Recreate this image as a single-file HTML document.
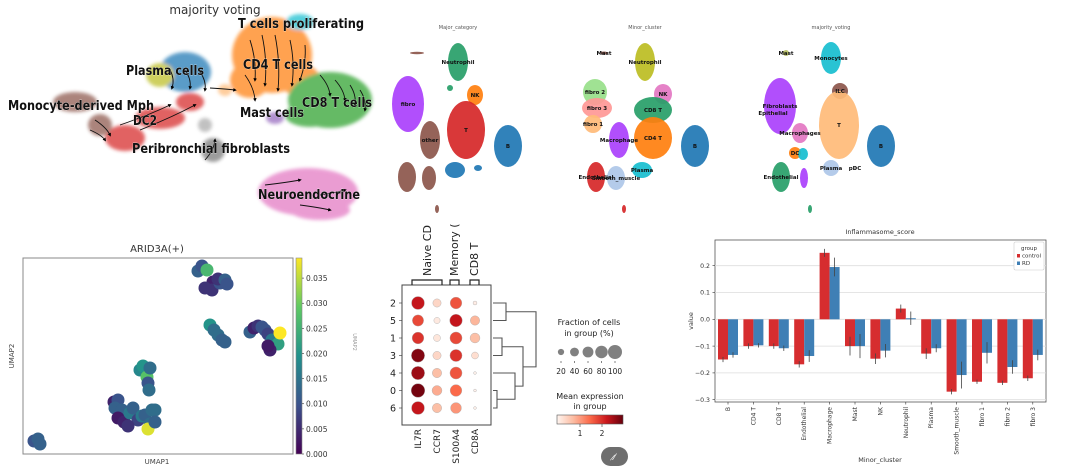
<!DOCTYPE html>
<html><head><meta charset="utf-8"><style>
html,body{margin:0;padding:0;background:#fff;width:1080px;height:476px;overflow:hidden}
svg{display:block;font-family:"DejaVu Sans","Liberation Sans",sans-serif}
</style></head><body>
<svg id="root" width="1080" height="476" viewBox="0 0 1080 476">
<defs>
<linearGradient id="vir" x1="0" y1="1" x2="0" y2="0">
<stop offset="0" stop-color="#440154"/><stop offset="0.25" stop-color="#3b528b"/><stop offset="0.5" stop-color="#21918c"/><stop offset="0.75" stop-color="#5ec962"/><stop offset="1" stop-color="#fde725"/></linearGradient>
<linearGradient id="reds" x1="0" y1="0" x2="1" y2="0">
<stop offset="0" stop-color="#fff5f0"/><stop offset="0.25" stop-color="#fcbba1"/><stop offset="0.5" stop-color="#fb6a4a"/><stop offset="0.75" stop-color="#cb181d"/><stop offset="1" stop-color="#67000d"/></linearGradient>
<filter id="blur1"><feGaussianBlur stdDeviation="1.8"/></filter>
<marker id="arr" markerWidth="4" markerHeight="4" refX="2" refY="2" orient="auto"><path d="M0,0L4,2L0,4z" fill="#000"/></marker>
</defs>
<g id="stream"></g>
<g id="umaps"></g>
<g id="arid"></g>
<g id="dot"></g>
<g id="bar"></g>
</svg>
<script>
const NS="http://www.w3.org/2000/svg";
function mk(parent,tag,attrs,text){const e=document.createElementNS(NS,tag);for(const k in attrs)e.setAttribute(k,attrs[k]);if(text!==undefined)e.textContent=text;parent.appendChild(e);return e;}

// ---------- Streamline UMAP ----------
const streamBlobs=[["#ff7f0e",272,55,40,38],["#ff7f0e",250,80,20,18],["#ff7f0e",300,80,20,16],["#17becf",300,22,14,8],["#2ca02c",330,100,42,28],["#2ca02c",310,115,25,12],["#1f77b4",185,72,26,20],["#bcbd22",160,75,14,12],["#d62728",125,138,20,13],["#d62728",160,118,25,11],["#d62728",190,102,14,9],["#8c564b",75,102,22,10],["#8c564b",100,125,12,11],["#aaaaaa",205,125,7,7],["#777777",213,150,12,12],["#e377c2",308,192,50,24],["#e377c2",320,210,30,10],["#9467bd",275,118,9,6],["#ffbb78",225,90,7,6]];
const streamLabels=[["T cells proliferating",238,28,126],["CD4 T cells",243,69,70],["Plasma cells",126,75,78],["Monocyte-derived Mph",8,110,146],["DC2",133,125,24],["Mast cells",240,117,64],["CD8 T cells",302,107,70],["Peribronchial fibroblasts",132,153,158],["Neuroendocrine",258,199,102]];
const sg=document.getElementById('stream');
const st=mk(sg,'text',{x:215,y:14,'font-size':12,'text-anchor':'middle',fill:'#333'},'majority voting');


const sb=mk(sg,'g',{filter:'url(#blur1)',opacity:0.72});
streamBlobs.forEach(b=>{const e=mk(sb,'ellipse',{cx:b[1],cy:b[2],rx:b[3],ry:b[4],fill:b[0]});

});
const arrows=[[250,40,255,80],[262,35,265,85],[275,35,278,90],[290,40,292,85],[305,45,300,80],[245,75,255,100],[320,75,330,95],[335,80,345,100],[350,85,355,105],[360,90,365,110],[170,70,172,88],[185,70,190,88],[200,72,205,90],[95,120,110,135],[90,130,105,140],[120,125,170,105],[140,130,195,105],[210,88,235,90],[265,185,300,180],[320,195,345,190],[300,205,330,210],[205,160,215,140]];
arrows.forEach(a=>{const p=mk(sg,'path',{d:`M${a[0]},${a[1]} Q${(a[0]+a[2])/2+4},${(a[1]+a[3])/2} ${a[2]},${a[3]}`,stroke:'#111','stroke-width':0.9,fill:'none','marker-end':'url(#arr)'});

});
streamLabels.forEach(l=>{const t=mk(sg,'text',{x:l[1],y:l[2],'font-size':13,'font-weight':'bold',fill:'#111',textLength:l[3],lengthAdjust:'spacingAndGlyphs',stroke:'#fff','stroke-width':0.4,'paint-order':'stroke'},l[0]);

});

// ---------- Three UMAP panels ----------
const panelOffsets=[0,187,373];
const panelTitles=["Major_category","Minor_cluster","majority_voting"];
const panelBlobs=[
[["#8c564b",417,53,7,1.2,""],["#279e68",458,62,10,19,"Neutrophil"],["#279e68",450,88,3,3,""],["#aa40fc",408,104,16,28,"fibro"],["#ff7f0e",475,95,8,10,"NK"],["#d62728",466,130,19,29,"T"],["#8c564b",430,140,10,19,"other"],["#8c564b",407,177,9,15,""],["#8c564b",429,178,7,12,""],["#1f77b4",508,146,14,21,"B"],["#1f77b4",455,170,10,8,""],["#1f77b4",478,168,4,3,""],["#8c564b",437,209,2,4,""]],
[["#8c564b",417,53,4,1.5,"Mast"],["#bcbd22",458,62,10,19,"Neutrophil"],["#98df8a",408,92,12,13,"fibro 2"],["#ff9896",410,108,15,10,"fibro 3"],["#ffbb78",406,124,9,9,"fibro 1"],["#e377c2",476,94,9,10,"NK"],["#279e68",466,110,19,13,"CD8 T"],["#ff7f0e",466,138,19,21,"CD4 T"],["#aa40fc",432,140,10,18,"Macrophage"],["#d62728",409,177,9,15,"Endothelial"],["#aec7e8",429,178,9,12,"Smooth_muscle"],["#17becf",455,170,10,8,"Plasma"],["#1f77b4",508,146,14,21,"B"],["#d62728",437,209,2,4,""]],
[["#b5bd61",413,53,3,3,"Mast"],["#17becf",458,58,10,16,"Monocytes"],["#8c564b",467,91,8,8,"ILC"],["#aa40fc",407,106,16,28,"Fibroblasts"],["#ffbb78",466,125,20,34,"T"],["#e377c2",427,133,8,10,"Macrophages"],["#ff7f0e",422,153,6,6,"DC"],["#17becf",430,154,5,6,""],["#279e68",408,177,9,15,"Endothelial"],["#aa40fc",431,178,4,10,""],["#aec7e8",458,168,8,8,"Plasma"],["#1f77b4",508,146,14,21,"B"],["#279e68",437,209,2,4,""],["#111",482,168,0.5,0.5,"pDC"],["#ffbb78",400,113,1,1,"Epithelial"]]];
const ug=document.getElementById('umaps');
panelOffsets.forEach((off,pi)=>{
 const g=mk(ug,'g',{transform:`translate(${off},0)`});
 
 
 const tt=mk(g,'text',{x:458,y:29,'font-size':5,'text-anchor':'middle',fill:'#555'},panelTitles[pi]);
 
 
 panelBlobs[pi].forEach(b=>{
  const e=mk(g,'ellipse',{cx:b[1],cy:b[2],rx:b[3],ry:b[4],fill:b[0],opacity:0.92});
  
  
 });
 panelBlobs[pi].forEach(b=>{ if(b[5]){
  const t=mk(g,'text',{x:b[1],y:b[2]+2,'font-size':5.5,'font-weight':'bold','text-anchor':'middle',fill:'#111'},b[5]);
  
  }});
});

// ---------- ARID3A UMAP ----------
const aridTicks=[0,0.005,0.010,0.015,0.020,0.025,0.030,0.035];
const aridPoints=[[198,271,0.012],[202,266,0.010],[207,270,0.026],[213,282,0.004],[212,290,0.006],[220,283,0.010],[218,279,0.006],[205,288,0.006],[225,280,0.012],[227,284,0.010],
[210,325,0.020],[214,330,0.014],[218,335,0.014],[222,340,0.012],[225,342,0.012],
[250,332,0.012],[254,328,0.004],[258,326,0.006],[262,327,0.010],[265,330,0.010],[268,334,0.008],[272,340,0.016],[278,344,0.022],[280,333,0.039],[270,350,0.004],[268,346,0.003],
[140,370,0.018],[143,366,0.020],[147,377,0.028],[150,368,0.014],[148,383,0.010],[149,390,0.014],
[114,402,0.004],[118,400,0.010],[115,408,0.012],[122,410,0.012],[118,418,0.003],[124,422,0.004],[130,413,0.016],[133,408,0.012],[138,420,0.008],[142,416,0.016],[145,415,0.012],[152,410,0.014],[150,424,0.014],[148,429,0.037],[155,410,0.014],[155,422,0.012],[128,426,0.006],
[34,441,0.010],[38,439,0.012],[40,444,0.012]];
const ag=document.getElementById('arid');
const aX0=23,aY0=258,aW=270,aH=196,cbX=296,cbW=6,cMax=0.039;
function vir(v){const s=[[0,[68,1,84]],[0.25,[59,82,139]],[0.5,[33,145,140]],[0.75,[94,201,98]],[1,[253,231,37]]];const t=Math.max(0,Math.min(1,v/cMax));for(let i=1;i<s.length;i++){if(t<=s[i][0]){const f=(t-s[i-1][0])/(s[i][0]-s[i-1][0]);const c=s[i-1][1].map((a,j)=>Math.round(a+(s[i][1][j]-a)*f));return `rgb(${c})`;}}return 'rgb(253,231,37)';}
function cbY(v){return aY0+aH-(v/cMax)*aH;}
const at=mk(ag,'text',{x:157,y:252,'font-size':10,'text-anchor':'middle',fill:'#333'},'ARID3A(+)');


const af=mk(ag,'rect',{x:aX0,y:aY0,width:aW,height:aH,fill:'#fff',stroke:'#888','stroke-width':1});


aridPoints.forEach(p=>{const c=mk(ag,'circle',{cx:p[0],cy:p[1],r:6.5,fill:vir(p[2])});

});
const cb=mk(ag,'rect',{x:cbX,y:aY0,width:cbW,height:aH,fill:'url(#vir)',stroke:'#888','stroke-width':0.6});


aridTicks.forEach(v=>{const y=cbY(v);mk(ag,'line',{x1:cbX+cbW,x2:cbX+cbW+2,y1:y,y2:y,stroke:'#333','stroke-width':0.6});
const t=mk(ag,'text',{x:cbX+cbW+4,y:y+3,'font-size':7.5,fill:'#333'},v.toFixed(3));

});
const ax1=mk(ag,'text',{x:157,y:464,'font-size':7,'text-anchor':'middle',fill:'#444'},'UMAP1');


const ax2=mk(ag,'text',{x:14,y:356,'font-size':7,'text-anchor':'middle',fill:'#444',transform:'rotate(-90 14 356)'},'UMAP2');


const ax3=mk(ag,'text',{x:353,y:342,'font-size':5,'text-anchor':'middle',fill:'#999',transform:'rotate(90 353 342)'},'UMAP2');



// ---------- Dot plot ----------
const dotRows=["2","5","1","3","4","0","6"];
const dotGenes=["IL7R","CCR7","S100A4","CD8A"];
const fracIL7R=[85,65,70,90,90,95,85], exprIL7R=[2.3,1.8,2.0,2.8,2.6,2.9,2.3];
const fracCCR7=[35,20,25,35,45,50,45], exprCCR7=[0.4,0.15,0.2,0.4,0.7,0.9,0.7];
const fracS100A4=[70,80,75,75,75,70,60], exprS100A4=[1.7,2.3,1.8,2.0,1.7,1.5,1.1];
const fracCD8A=[8,45,50,25,4,4,4], exprCD8A=[0.1,0.8,0.7,0.3,0.05,0.05,0.05];
const legendFracs=[20,40,60,80,100];
const exprTicks=[1,2];
const dg=document.getElementById('dot');
const dX0=402,dY0=285,dW=89,dH=140,exprMax=3;
const rowY=i=>303+i*17.5, colX=j=>418+j*19, rad=f=>7*Math.sqrt(f/100);
function reds(v){const s=[[0,[255,245,240]],[0.25,[252,187,161]],[0.5,[251,106,74]],[0.75,[203,24,29]],[1,[103,0,13]]];const t=Math.max(0,Math.min(1,v/exprMax));for(let i=1;i<s.length;i++){if(t<=s[i][0]){const f=(t-s[i-1][0])/(s[i][0]-s[i-1][0]);const c=s[i-1][1].map((a,j)=>Math.round(a+(s[i][1][j]-a)*f));return `rgb(${c})`;}}return 'rgb(103,0,13)';}
const df=mk(dg,'rect',{x:dX0,y:dY0,width:dW,height:dH,fill:'#fff',stroke:'#444','stroke-width':1});


const fracs=[fracIL7R,fracCCR7,fracS100A4,fracCD8A], exprs=[exprIL7R,exprCCR7,exprS100A4,exprCD8A];
dotGenes.forEach((g,j)=>{dotRows.forEach((r,i)=>{
 const c=mk(dg,'circle',{cx:colX(j),cy:rowY(i),r:rad(fracs[j][i]),fill:reds(exprs[j][i]),stroke:'#aaa','stroke-width':0.4});
 
 });
 const x=colX(j)+3;
 const t=mk(dg,'text',{x:x,y:429,'font-size':9,'text-anchor':'end',fill:'#222',transform:`rotate(-90 ${x} 429)`},g);
 
 
});
dotRows.forEach((r,i)=>{mk(dg,'line',{x1:dX0-3,x2:dX0,y1:rowY(i),y2:rowY(i),stroke:'#333','stroke-width':0.6});
const t=mk(dg,'text',{x:dX0-6,y:rowY(i)+3.5,'font-size':9.5,'text-anchor':'end',fill:'#222'},r);

});
[[412,442,"Naive CD",431],[450,459,"Memory (",458],[470,479,"CD8 T",478]].forEach(b=>{
 mk(dg,'path',{d:`M${b[0]},285 V280 H${b[1]} V285`,stroke:'#222','stroke-width':1.2,fill:'none'});
 const t=mk(dg,'text',{x:b[3],y:276,'font-size':11,fill:'#222',transform:`rotate(-90 ${b[3]} 276)`},b[2]);
 
 });
const dend=mk(dg,'path',{d:`M493,${rowY(0)}H506V${rowY(1)}H493 M493,${rowY(2)}H502V${rowY(3)}H493 M493,${rowY(5)}H497V${rowY(6)}H493 M493,${rowY(4)}H515V${(rowY(5)+rowY(6))/2}H497 M502,${(rowY(2)+rowY(3))/2}H523V${(rowY(4)+rowY(5.5))/2}H515 M506,${(rowY(0)+rowY(1))/2}H536V${(rowY(2.5)+rowY(4.8))/2}H523`,stroke:'#555','stroke-width':1.1,fill:'none'});


[["Fraction of cells",325],["in group (%)",336]].forEach(l=>{const t=mk(dg,'text',{x:589,y:l[1],'font-size':8,'text-anchor':'middle',fill:'#222'},l[0]);

});
legendFracs.forEach((f,k)=>{const x=561+k*13.5;
const c=mk(dg,'circle',{cx:x,cy:352,r:rad(f),fill:'#808080'});


mk(dg,'line',{x1:x,x2:x,y1:361,y2:363,stroke:'#333','stroke-width':0.6});
const t=mk(dg,'text',{x:x,y:374,'font-size':7.5,'text-anchor':'middle',fill:'#222'},String(f));

});
[["Mean expression",399],["in group",409]].forEach(l=>{const t=mk(dg,'text',{x:590,y:l[1],'font-size':8,'text-anchor':'middle',fill:'#222'},l[0]);

});
const ecb=mk(dg,'rect',{x:557,y:415,width:66,height:9,fill:'url(#reds)',stroke:'#555','stroke-width':0.6});


exprTicks.forEach(v=>{const x=557+66*v/exprMax+1;
mk(dg,'line',{x1:x,x2:x,y1:424,y2:427,stroke:'#333','stroke-width':0.6});
const t=mk(dg,'text',{x:x,y:436,'font-size':7.5,'text-anchor':'middle',fill:'#222'},String(v));

});
const btn=mk(dg,'rect',{x:601,y:447,width:27,height:19,rx:9.5,fill:'#6e6e6e'});


const bt=mk(dg,'text',{x:614.5,y:460,'font-size':9,'text-anchor':'middle',fill:'#fff'},'⁄̷');



// ---------- Bar chart ----------
const barCategories=["B","CD4 T","CD8 T","Endothelial","Macrophage","Mast","NK","Neutrophil","Plasma","Smooth_muscle","fibro 1","fibro 2","fibro 3"];
const controlValues=[-0.150,-0.100,-0.100,-0.168,0.248,-0.100,-0.147,0.040,-0.128,-0.270,-0.233,-0.237,-0.220];
const rdValues=[-0.133,-0.097,-0.108,-0.137,0.195,-0.100,-0.117,0.004,-0.108,-0.208,-0.125,-0.178,-0.133];
const controlErr=[0.010,0.010,0.010,0.012,0.015,0.035,0.020,0.015,0.020,0.010,0.008,0.008,0.010];
const rdErr=[0.010,0.008,0.010,0.022,0.035,0.045,0.025,0.025,0.015,0.050,0.040,0.025,0.020];
const yTicks=[0.2,0.1,0.0,-0.1,-0.2,-0.3];
const bg=document.getElementById('bar');
const bX0=715,bY0=240,bW=331,bH=162,zeroY=319.3,pxPer=268;
const yS=v=>zeroY-v*pxPer;
const xC=i=>728+i*25.4;
const bt2=mk(bg,'text',{x:880,y:234,'font-size':6.5,'text-anchor':'middle',fill:'#333'},'Inflammasome_score');


const bf=mk(bg,'rect',{x:bX0,y:bY0,width:bW,height:bH,fill:'#fff',stroke:'#555','stroke-width':0.8});


yTicks.forEach(v=>{const y=yS(v);
const gl=mk(bg,'line',{x1:bX0,x2:bX0+bW,y1:y,y2:y,stroke:'#ddd','stroke-width':0.8});


mk(bg,'line',{x1:bX0-2.5,x2:bX0,y1:y,y2:y,stroke:'#333','stroke-width':0.6});
const t=mk(bg,'text',{x:bX0-5,y:y+2.2,'font-size':6.2,'text-anchor':'end',fill:'#333'},(v<0?'−':'')+Math.abs(v).toFixed(1));

});
function bar(i,v,e,off,col,name){const x=xC(i)+off;const y1=yS(Math.max(v,0)),y2=yS(Math.min(v,0));
const r=mk(bg,'rect',{x:x,y:y1,width:10,height:y2-y1,fill:col});


const l=mk(bg,'line',{x1:x+5,x2:x+5,y1:yS(v+e),y2:yS(v-e),stroke:'#444','stroke-width':0.8});

}
barCategories.forEach((c,i)=>{
 bar(i,controlValues[i],controlErr[i],-10,'#d62d2f','bar-control');
 bar(i,rdValues[i],rdErr[i],0,'#3f7fb5','bar-rd');
 mk(bg,'line',{x1:xC(i),x2:xC(i),y1:bY0+bH,y2:bY0+bH+2.5,stroke:'#333','stroke-width':0.6});
 const x=xC(i)+2;
 const t=mk(bg,'text',{x:x,y:bY0+bH+5,'font-size':6,'text-anchor':'end',fill:'#333',transform:`rotate(-90 ${x} ${bY0+bH+5})`},c);
 
 
});
const yl=mk(bg,'text',{x:693,y:321,'font-size':6.5,'text-anchor':'middle',fill:'#333',transform:'rotate(-90 693 321)'},'value');


const xl=mk(bg,'text',{x:880,y:462,'font-size':6.5,'text-anchor':'middle',fill:'#333'},'Minor_cluster');


const lg=mk(bg,'g',{});


mk(lg,'rect',{x:1014,y:242,width:30,height:28,fill:'#fff',stroke:'#ccc','stroke-width':0.6,rx:1.5});
mk(lg,'text',{x:1029,y:250,'font-size':5.5,'text-anchor':'middle',fill:'#333'},'group');
const le1=mk(lg,'rect',{x:1017,y:254,width:3,height:3.5,fill:'#d62d2f'});


mk(lg,'text',{x:1022,y:257.5,'font-size':5.5,fill:'#333'},'control');
const le2=mk(lg,'rect',{x:1017,y:261.5,width:3,height:3.5,fill:'#3f7fb5'});


mk(lg,'text',{x:1022,y:265,'font-size':5.5,fill:'#333'},'RD');
</script>
</body></html>
